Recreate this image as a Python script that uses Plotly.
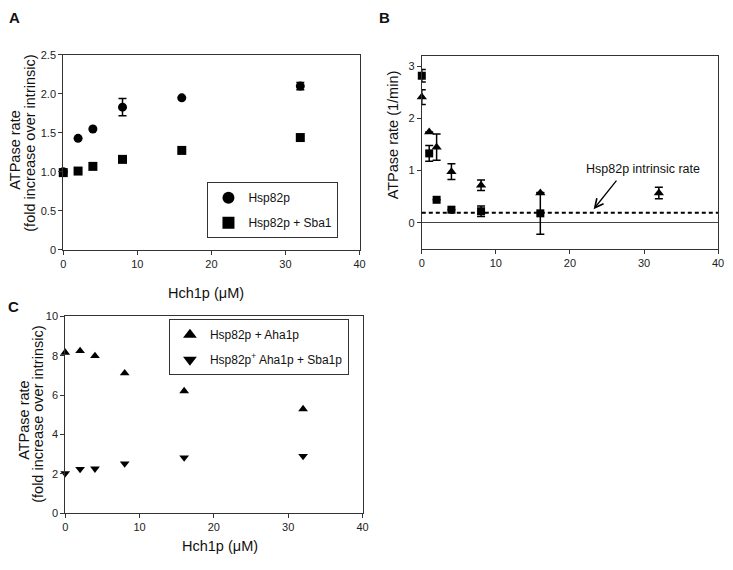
import plotly.graph_objects as go

W, H = 733, 570

# ---------------- data ----------------
# Panel A
a_x = [0, 2, 4, 8, 16, 32]
a_hsp82 = [1.0, 1.43, 1.55, 1.83, 1.95, 2.10]
a_hsp82_err = [0, 0, 0, 0.11, 0, 0.045]
a_sba1 = [0.99, 1.01, 1.07, 1.16, 1.275, 1.44]

# Panel B
b_sq_x = [0, 1, 2, 4, 8, 16]
b_sq_y = [2.82, 1.33, 0.44, 0.25, 0.22, 0.18]
b_sq_err = [0.12, 0.15, 0, 0, 0.10, 0.40]
b_tri_x = [0, 1, 2, 4, 8, 16, 32]
b_tri_y = [2.41, 1.74, 1.45, 0.98, 0.72, 0.57, 0.57]
b_tri_err = [0.14, 0, 0.25, 0.15, 0.10, 0, 0.11]
b_intrinsic = 0.19

# Panel C
c_x = [0, 2, 4, 8, 16, 32]
c_aha1 = [8.16, 8.24, 7.99, 7.11, 6.20, 5.29]
c_aha1_sba1 = [2.02, 2.24, 2.26, 2.52, 2.82, 2.90]

x_ticks = [0, 10, 20, 30, 40]
a_yticks = [0, 0.5, 1.0, 1.5, 2.0, 2.5]
a_yticktext = ["0", "0.5", "1.0", "1.5", "2.0", "2.5"]
b_yticks = [0, 1, 2, 3]
c_yticks = [0, 2, 4, 6, 8, 10]

FONT = "Liberation Sans, Arial, sans-serif"
AX = "#333333"

def px(v):
    return v / W

def py(v):
    return 1 - v / H

fig = go.Figure()

err_style = dict(type="data", color="black", thickness=1.5, width=4)

# Panel A
fig.add_trace(go.Scatter(x=a_x, y=a_hsp82, mode="markers", name="Hsp82p",
                         marker=dict(symbol="circle", size=9, color="black"),
                         error_y=dict(array=a_hsp82_err, **err_style),
                         xaxis="x", yaxis="y", legend="legend", cliponaxis=False,
                         legendgroup="a1"))
fig.add_trace(go.Scatter(x=a_x, y=a_sba1, mode="markers", name="Hsp82p + Sba1",
                         marker=dict(symbol="square", size=9, color="black"),
                         xaxis="x", yaxis="y", legend="legend", cliponaxis=False,
                         legendgroup="a2"))

# Panel B
fig.add_trace(go.Scatter(x=b_tri_x, y=b_tri_y, mode="markers", showlegend=False,
                         marker=dict(symbol="triangle-up", size=9, color="black"),
                         error_y=dict(array=b_tri_err, **err_style),
                         xaxis="x2", yaxis="y2", cliponaxis=False))
fig.add_trace(go.Scatter(x=b_sq_x, y=b_sq_y, mode="markers", showlegend=False,
                         marker=dict(symbol="square", size=8, color="black"),
                         error_y=dict(array=b_sq_err, **err_style),
                         xaxis="x2", yaxis="y2", cliponaxis=False))

# Panel C
fig.add_trace(go.Scatter(x=c_x, y=c_aha1, mode="markers", name="Hsp82p + Aha1p",
                         marker=dict(symbol="triangle-up", size=8.5, color="black"),
                         xaxis="x3", yaxis="y3", legend="legend2", cliponaxis=False,
                         legendgroup="c1"))
fig.add_trace(go.Scatter(x=c_x, y=c_aha1_sba1, mode="markers",
                         name="Hsp82p<sup>+</sup> Aha1p + Sba1p",
                         marker=dict(symbol="triangle-down", size=8.5, color="black"),
                         xaxis="x3", yaxis="y3", legend="legend2", cliponaxis=False,
                         legendgroup="c2"))

tickfont = dict(family=FONT, size=11, color="#222")

def xa(domain, anchor):
    return dict(domain=domain, anchor=anchor, range=[0, 40], tickvals=x_ticks,
                showline=True, mirror=True, linecolor=AX, linewidth=1,
                ticks="outside", ticklen=4, tickcolor=AX, showgrid=False,
                zeroline=False, tickfont=tickfont)

def ya(domain, anchor, rng, tv, tt=None):
    d = dict(domain=domain, anchor=anchor, range=rng, tickvals=tv,
             showline=True, mirror=True, linecolor=AX, linewidth=1,
             ticks="outside", ticklen=4, tickcolor=AX, showgrid=False,
             zeroline=False, tickfont=tickfont)
    if tt is not None:
        d["ticktext"] = tt
    return d

yb = ya([py(248), py(51)], "x2", [-0.5, 3.2], b_yticks)
yb.update(zeroline=True, zerolinecolor="#444", zerolinewidth=1)

legend_common = dict(bordercolor=AX, borderwidth=1, bgcolor="white",
                     font=dict(family=FONT, size=12, color="#111"),
                     itemsizing="constant", tracegroupgap=6,
                     xanchor="left", yanchor="top")

fig.update_layout(
    width=W, height=H,
    margin=dict(l=0, r=0, t=0, b=0),
    paper_bgcolor="white", plot_bgcolor="white",
    font=dict(family=FONT, color="#222"),
    xaxis=xa([px(61), px(361)], "y"),
    yaxis=ya([py(249), py(50)], "x", [0, 2.5], a_yticks, a_yticktext),
    xaxis2=xa([px(424), px(724)], "y2"),
    yaxis2=yb,
    xaxis3=xa([px(63), px(364)], "y3"),
    yaxis3=ya([py(518), py(317)], "x3", [0, 10], c_yticks),
    legend=dict(x=px(207), y=py(180), **legend_common),
    legend2=dict(x=px(168), y=py(320), **legend_common),
    shapes=[dict(type="line", xref="x2 domain", yref="y2", x0=0, x1=1,
                 y0=b_intrinsic, y1=b_intrinsic,
                 line=dict(color="black", width=2, dash="4px,3px"))],
)

ann = []
def label(text, x, y, size, bold=False, angle=0):
    ann.append(dict(text=f"<b>{text}</b>" if bold else text, x=px(x), y=py(y),
                    xref="paper", yref="paper", showarrow=False,
                    xanchor="center", yanchor="middle", textangle=angle,
                    font=dict(family=FONT, size=size, color="#111")))

label("A", 12, 12, 15, bold=True)
label("B", 386, 12, 15, bold=True)
label("C", 11, 307, 15, bold=True)
label("Hch1p (μM)", 206, 293, 14.5)
label("Hch1p (μM)", 220, 552, 14.5)
label("ATPase rate", 12, 147, 14.5, angle=-90)
label("(fold increase over intrinsic)", 27, 140, 14.5, angle=-90)
label("ATPase rate", 21, 423, 14.5, angle=-90)
label("(fold increase over intrinsic)", 36, 417, 14.5, angle=-90)
label("ATPase rate (1/min)", 395, 132, 14.5, angle=-90)
label("Hsp82p intrinsic rate", 648, 167, 12.5)

# arrow pointing to the intrinsic-rate line
ann.append(dict(text="", x=23.2, y=0.26, xref="x2", yref="y2",
                showarrow=True, ax=24, ay=-30, arrowhead=5, arrowsize=1.3,
                arrowwidth=1.3, arrowcolor="black"))

fig.update_layout(annotations=ann)

fig.write_html("out.html", config={"displayModeBar": False},
               post_script="document.body.style.margin='0';document.body.style.padding='0';")
